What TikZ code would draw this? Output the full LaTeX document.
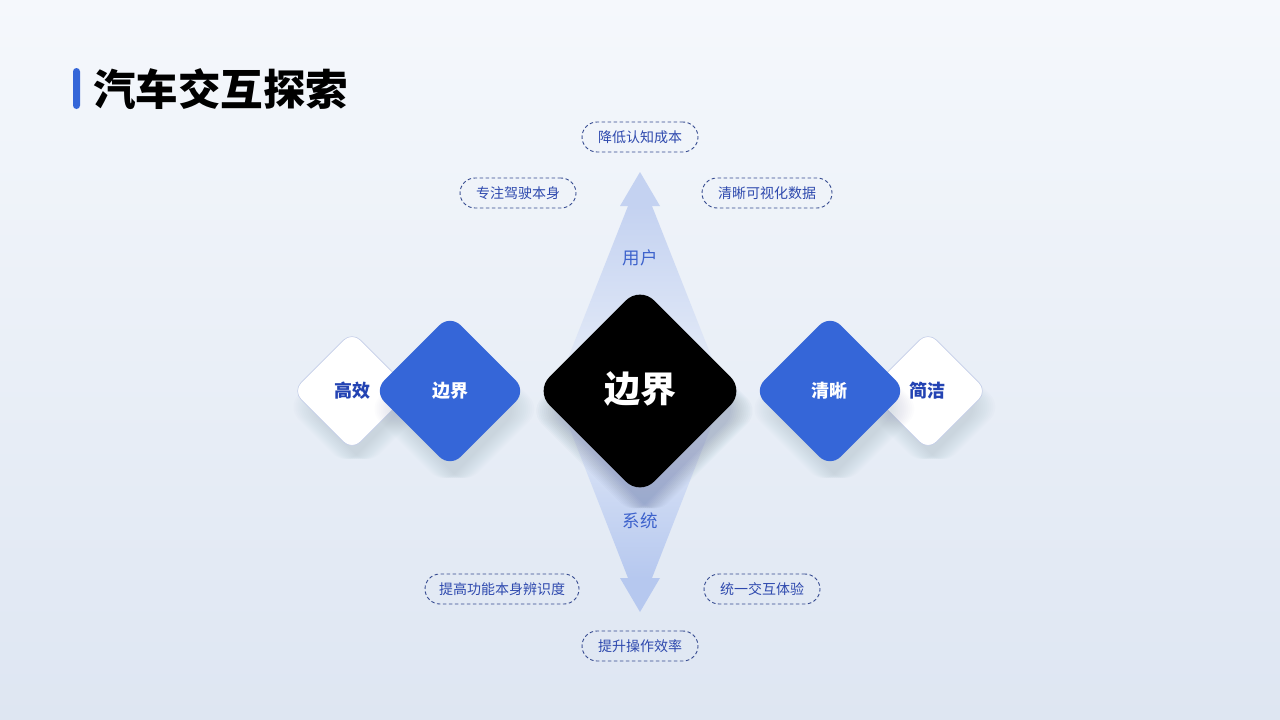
\documentclass[tikz,border=0pt]{standalone}
\usepackage{fontspec}
\newfontfamily\cjk{Noto Sans CJK SC}
\definecolor{bgtop}{HTML}{F5F8FC}
\definecolor{bgbot}{HTML}{DEE6F2}
\definecolor{arrowtop}{HTML}{C4D2F1}
\definecolor{arrowbot}{HTML}{B6C8EF}
\definecolor{fadecol}{HTML}{E8EEF8}
\definecolor{bluedia}{HTML}{3566D8}
\definecolor{whitetext}{HTML}{2343B3}
\definecolor{labelblue}{HTML}{3D62CC}
\definecolor{pillc}{HTML}{34498F}
\definecolor{pilltext}{HTML}{2E49AE}
\definecolor{shadowc}{HTML}{5A6E99}
\definecolor{whiteedge}{HTML}{C3CDE8}
\newcommand{\rdiam}[5]{\begin{scope}[shift={(#1,#2)},rotate=45]\path[#5,rounded corners=#4] (-#3,-#3) rectangle (#3,#3);\end{scope}}
\newcommand{\rshadow}[4]{\foreach \k in {1,...,12}{\rdiam{#1}{#2+#4}{#3-6+\k*1.4}{18pt}{fill=shadowc,fill opacity=0.016}}}
\tikzset{
  pill/.style={draw=pillc,line width=0.9pt,dash pattern=on 3.5pt off 2.5pt,rounded corners=15pt,
    minimum height=30pt,inner xsep=16pt,inner ysep=0pt,font=\cjk\fontsize{14}{14}\selectfont,text=pilltext},
  axislabel/.style={font=\cjk\fontsize{17.5}{17.5}\selectfont,text=labelblue},
  smalllabel/.style={font=\cjk\bfseries\fontsize{18}{18}\selectfont},
}
\begin{document}
\begin{tikzpicture}[x=1pt,y=-1pt]
\useasboundingbox (0,0) rectangle (1280,720);
\shade[top color=bgtop,bottom color=bgbot] (0,0) rectangle (1280,720);
% top arrow
\shade[top color=arrowtop,bottom color=fadecol] (628,206) -- (652,206) -- (725,391) -- (555,391) -- cycle;
\fill[arrowtop] (640,172) -- (660,206) -- (620,206) -- cycle;
% bottom arrow
\shade[top color=fadecol,bottom color=arrowbot] (555,391) -- (725,391) -- (652,578) -- (628,578) -- cycle;
\fill[arrowbot] (640,612) -- (660,578) -- (620,578) -- cycle;
% white diamonds
\rshadow{352}{391}{42}{16}
\rshadow{928}{391}{42}{16}
\rdiam{352}{391}{42}{12pt}{fill=white,draw=whiteedge,line width=0.6pt}
\rdiam{928}{391}{42}{12pt}{fill=white,draw=whiteedge,line width=0.6pt}
% blue diamonds
\rshadow{450}{391}{54}{18}
\rshadow{830}{391}{54}{18}
\rdiam{450}{391}{54}{15pt}{fill=bluedia}
\rdiam{830}{391}{54}{15pt}{fill=bluedia}
% center diamond
\rshadow{640}{391}{74}{20}
\rshadow{640}{391}{74}{20}
\rdiam{640}{391}{74}{20pt}{fill=black}
% labels
\node[axislabel] (user) at (640,258) {用户};
\node[axislabel] (sys) at (640,521) {系统};
\node[smalllabel,text=whitetext] (gx) at (352,391) {高效};
\node[smalllabel,text=white] (bj1) at (450,391) {边界};
\node[smalllabel,text=white] (qx) at (829,391) {清晰};
\node[smalllabel,text=whitetext] (jj) at (927,391) {简洁};
\node[font=\cjk\bfseries\fontsize{36}{36}\selectfont,text=white] (center) at (640,389) {边界};
% pills
\node[pill] (p1) at (640,137) {降低认知成本};
\node[pill] (p2) at (518,193) {专注驾驶本身};
\node[pill] (p3) at (767,193) {清晰可视化数据};
\node[pill,inner xsep=14pt] (p4) at (502,589) {提高功能本身辨识度};
\node[pill] (p5) at (762,589) {统一交互体验};
\node[pill] (p6) at (640,646) {提升操作效率};
% title
\fill[bluedia,rounded corners=3.5pt] (73,68) rectangle (80,109);
\node[anchor=west,inner sep=0pt,font=\cjk\bfseries\fontsize{42.5}{42.5}\selectfont,text=black] (title) at (93,89) {汽车交互探索};
\end{tikzpicture}
\end{document}
